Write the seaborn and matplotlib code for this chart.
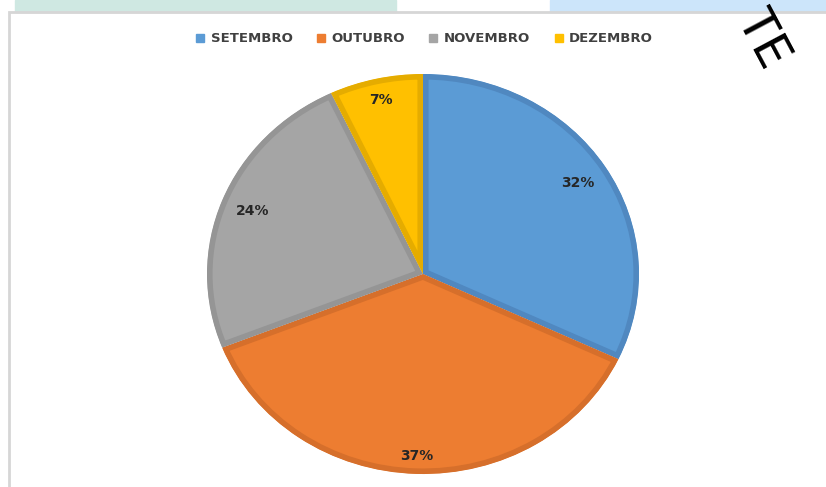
import matplotlib
matplotlib.use("Agg")
import matplotlib.pyplot as plt
import seaborn as sns
import numpy as np
from matplotlib.patches import Rectangle
from matplotlib.lines import Line2D

# data
months = ["SETEMBRO", "OUTUBRO", "NOVEMBRO", "DEZEMBRO"]
shares = [32, 37, 24, 7]
fill_colors = ["#5B9BD5", "#ED7D31", "#A5A5A5", "#FFC000"]
edge_colors = ["#5088C0", "#D66F2B", "#959595", "#E5AC00"]
label_dist = [0.85, 0.91, 0.85, 0.89]

sns.set_theme(style="white")
plt.rcParams['font.family'] = ['DejaVu Sans']

fig = plt.figure(figsize=(8.26, 4.87), dpi=100)
W, H = 826, 487

# strips and frame of the screenshot
fig.patches.append(Rectangle((15 / W, 1 - 12 / H), 381 / W, 12 / H,
                             transform=fig.transFigure, color="#CFE8E2", zorder=-2))
fig.patches.append(Rectangle((550 / W, 1 - 12 / H), 276 / W, 12 / H,
                             transform=fig.transFigure, color="#CCE5FA", zorder=-2))
fig.patches.append(Rectangle((9 / W, -0.1), 1.2, 1 - 12 / H + 0.1,
                             transform=fig.transFigure, facecolor="none",
                             edgecolor="#D6D6D6", linewidth=2, zorder=-1))

# pie axes, slightly wider than tall like the original
rx, ry = 216, 200
cx, cy = 423, 274
ax = fig.add_axes([(cx - rx * 1.1) / W, (H - cy - ry * 1.1) / H,
                   2.2 * rx / W, 2.2 * ry / H])
ax.set_zorder(3)
wedges, texts = ax.pie(shares, colors=fill_colors, startangle=90,
                       counterclock=False,
                       labels=[f"{v}%" for v in shares], labeldistance=0.88,
                       wedgeprops=dict(linewidth=8),
                       textprops=dict(fontsize=10, fontweight="bold",
                                      color="#262626", ha="center", va="center"))
ax.set_xlim(-1.1, 1.1)
ax.set_ylim(-1.1, 1.1)
ax.set_aspect("auto")
ax.axis("off")

for w, ec, t, d in zip(wedges, edge_colors, texts, label_dist):
    w.set_edgecolor(ec)
    w.set_joinstyle("miter")
    # keep the border inside the slice
    w.set_clip_on(True)
    w.set_clip_path(w.get_path(), ax.transData)
    mid = np.deg2rad((w.theta1 + w.theta2) / 2)
    t.set_position((d * np.cos(mid), d * np.sin(mid)))

# legend on top
handles = [Line2D([0], [0], marker="s", linestyle="none", markersize=6,
                  markerfacecolor=c, markeredgecolor=c) for c in fill_colors]
leg = fig.legend(handles, months, loc="center", bbox_to_anchor=(424 / W, 1 - 39 / H),
                 ncol=4, frameon=False, handlelength=0.8, handletextpad=0.4,
                 columnspacing=1.75, prop=dict(size=9.5, weight="bold"))
for t in leg.get_texts():
    t.set_color("#404040")

# rotated letters in the top right corner
fig.text(762 / W, 1 - 40 / H, "TE", rotation=-62, fontsize=36,
         family="DejaVu Sans Mono", color="black", ha="center", va="center")

fig.savefig("out.png", dpi=100)
